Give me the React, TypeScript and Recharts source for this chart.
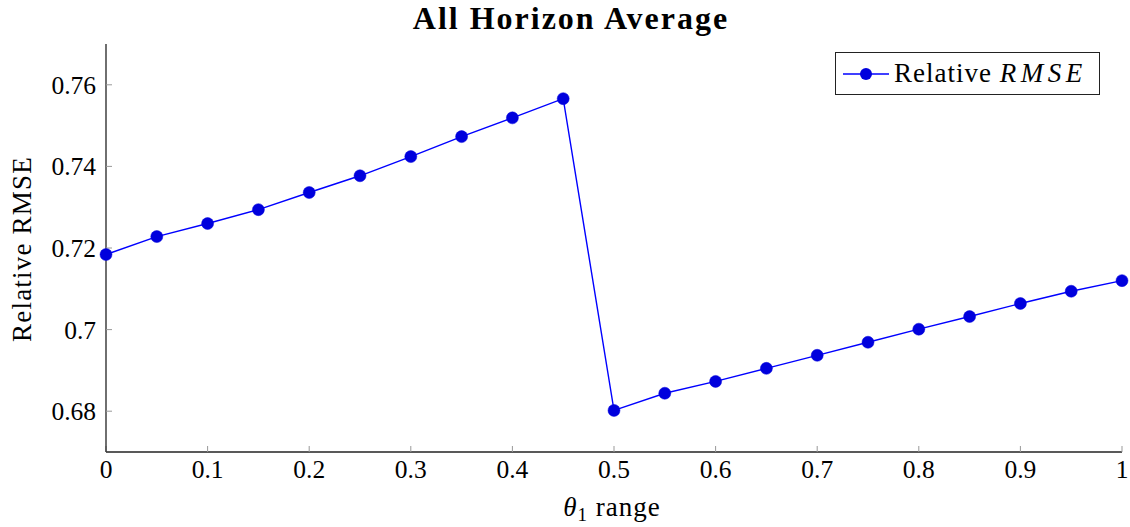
import { LineChart, Line, XAxis, YAxis, Label } from 'recharts';

const thetaRange = [0, 0.05, 0.1, 0.15, 0.2, 0.25, 0.3, 0.35, 0.4, 0.45, 0.5, 0.55, 0.6, 0.65, 0.7, 0.75, 0.8, 0.85, 0.9, 0.95, 1];
const relativeRmse = [
  0.7184, 0.7228, 0.726, 0.7294, 0.7336, 0.7377, 0.7424, 0.7473, 0.7519, 0.7566,
  0.6802, 0.6844, 0.6873, 0.6905, 0.6937, 0.6969, 0.7001, 0.7032, 0.7064, 0.7094, 0.712,
];
const xTicks = [0, 0.1, 0.2, 0.3, 0.4, 0.5, 0.6, 0.7, 0.8, 0.9, 1];
const yTicks = [0.68, 0.7, 0.72, 0.74, 0.76];

const FONT = '"Liberation Serif", "DejaVu Serif", serif';
const BLUE = '#0000ff';
const DOT = '#0000dd';

const data = thetaRange.map((t, i) => ({ t, v: relativeRmse[i] }));

const fmt = (v: number) => String(Number(v.toFixed(2)));

export default function App() {
  return (
    <div style={{ position: 'absolute', left: 0, top: 0, width: 1130, height: 527, background: '#fff', fontFamily: FONT }}>
      <div
        style={{
          position: 'absolute',
          left: 0,
          width: 1142,
          top: 0,
          textAlign: 'center',
          fontWeight: 'bold',
          fontSize: 32,
          letterSpacing: 2,
          color: '#000',
        }}
      >
        All Horizon Average
      </div>
      <LineChart width={1130} height={527} data={data} margin={{ top: 44, right: 8, bottom: 0, left: 46 }}>
        <XAxis
          dataKey="t"
          type="number"
          domain={[0, 1]}
          ticks={xTicks}
          tickFormatter={fmt}
          axisLine={{ stroke: '#222', strokeWidth: 1.3 }}
          tickLine={{ stroke: '#999' }}
          tickSize={-6}
          tickMargin={14}
          tick={{ fill: '#000', fontSize: 25.5, fontFamily: FONT }}
          height={75}
        >
          <Label
            position="insideBottom"
            content={() => (
              <text x={612} y={516} textAnchor="middle" fontSize={27} fontFamily={FONT} fill="#000" letterSpacing={1}>
                <tspan fontStyle="italic">θ</tspan>
                <tspan fontSize={19} dy={5}>1</tspan>
                <tspan dy={-5}> range</tspan>
              </text>
            )}
          />
        </XAxis>
        <YAxis
          type="number"
          domain={[0.67, 0.77]}
          ticks={yTicks}
          tickFormatter={fmt}
          axisLine={{ stroke: '#222', strokeWidth: 1.3 }}
          tickLine={{ stroke: '#999' }}
          tickSize={-6}
          tickMargin={16}
          tick={{ fill: '#000', fontSize: 25.5, fontFamily: FONT }}
          width={60}
        >
          <Label
            content={() => (
              <text
                x={31}
                y={249}
                transform="rotate(-90 31 249)"
                textAnchor="middle"
                fontSize={27}
                letterSpacing={1.2}
                fontFamily={FONT}
                fill="#000"
              >
                Relative RMSE
              </text>
            )}
          />
        </YAxis>
        <Line
          type="linear"
          dataKey="v"
          stroke={BLUE}
          strokeWidth={1.4}
          dot={{ r: 6, fill: DOT, stroke: DOT, strokeWidth: 0.5 }}
          isAnimationActive={false}
        />
      </LineChart>
      <div
        style={{
          position: 'absolute',
          left: 835,
          top: 52,
          width: 263,
          height: 41,
          border: '1.3px solid #222',
          display: 'flex',
          alignItems: 'center',
          fontSize: 27,
          color: '#000',
        }}
      >
        <svg width={48} height={20} style={{ marginLeft: 7 }}>
          <line x1={0} y1={10} x2={46} y2={10} stroke={BLUE} strokeWidth={1.4} />
          <circle cx={23} cy={10} r={6} fill={DOT} />
        </svg>
        <span style={{ marginLeft: 3, letterSpacing: 1 }}>
          Relative <i style={{ letterSpacing: 4.5 }}>RMSE</i>
        </span>
      </div>
    </div>
  );
}
